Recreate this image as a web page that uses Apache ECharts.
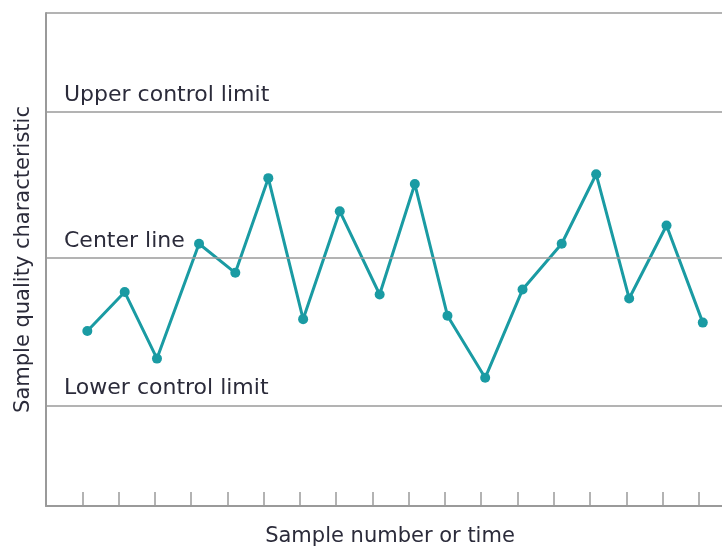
<!DOCTYPE html>
<html>
<head>
<meta charset="utf-8">
<title>Control chart</title>
<script src="https://cdn.jsdelivr.net/npm/echarts@6/dist/echarts.min.js"></script>
<style>
  html, body { margin: 0; padding: 0; background: #fff; }
  #chart { width: 722px; height: 552px; }
</style>
</head>
<body>
<div id="chart"></div>
<script>
// sample positions along the x axis (sample number)
const sampleX = [1.14, 2.17, 3.06, 4.22, 5.22, 6.13, 7.09, 8.1, 9.2, 10.17, 11.07, 12.11, 13.14, 14.22, 15.17, 16.08, 17.11, 18.11]
// quality characteristic per sample
const qualityValues = [3.55, 4.34, 2.99, 5.32, 4.73, 6.65, 3.79, 5.98, 4.29, 6.53, 3.86, 2.6, 4.39, 5.32, 6.73, 4.21, 5.69, 3.72]
// control lines
const limitNames = ['Upper control limit', 'Center line', 'Lower control limit']
const limitValues = [7.99, 5.03, 2.04]
// tick marks along the bottom axis
const tickValues = [1, 2, 3, 4, 5, 6, 7, 8, 9, 10, 11, 12, 13, 14, 15, 16, 17, 18]
const yMax = 10
const xMax = 18.64

const chart = echarts.init(document.getElementById('chart'), null, { renderer: 'canvas' })

const lineColor = '#9a9a9a'
const teal = '#1a9ba3'
const textColor = '#2b2b3a'

const limitLines = limitNames.map((name, i) => ({ name: name, yAxis: limitValues[i] }))
limitLines.push({ name: '', yAxis: yMax, label: { show: false } })

chart.setOption({
  animation: false,
  grid: {
    left: 46,
    right: 0,
    top: 13,
    bottom: 37,
    containLabel: false
  },
  xAxis: {
    type: 'value',
    min: 0,
    max: xMax,
    interval: 1,
    name: 'Sample number or time',
    nameLocation: 'middle',
    nameGap: 20,
    nameTextStyle: {
      fontFamily: 'DejaVu Sans',
      fontSize: 21,
      color: textColor,
      padding: [0, 0, 0, 12]
    },
    axisLine: { lineStyle: { color: lineColor, width: 2 } },
    axisTick: {
      show: true,
      inside: true,
      length: 14,
      customValues: tickValues,
      lineStyle: { color: lineColor, width: 1.5 }
    },
    axisLabel: { show: false },
    splitLine: { show: false }
  },
  yAxis: {
    type: 'value',
    min: 0,
    max: yMax,
    name: 'Sample quality characteristic',
    nameLocation: 'middle',
    nameGap: 12,
    nameTextStyle: {
      fontFamily: 'DejaVu Sans',
      fontSize: 21,
      color: textColor
    },
    axisLine: { show: true, lineStyle: { color: lineColor, width: 2 } },
    axisTick: { show: false },
    axisLabel: { show: false },
    splitLine: { show: false }
  },
  series: [
    {
      type: 'line',
      data: sampleX.map((x, i) => [x, qualityValues[i]]),
      symbol: 'circle',
      symbolSize: 10,
      lineStyle: { color: teal, width: 3 },
      itemStyle: { color: teal },
      markLine: {
        silent: true,
        symbol: 'none',
        lineStyle: { color: lineColor, type: 'solid', width: 1.5 },
        label: {
          show: true,
          position: 'insideStartTop',
          distance: [18, 6],
          formatter: p => p.name,
          fontFamily: 'DejaVu Sans',
          fontSize: 22,
          color: textColor
        },
        data: limitLines
      }
    }
  ]
})
</script>
</body>
</html>
